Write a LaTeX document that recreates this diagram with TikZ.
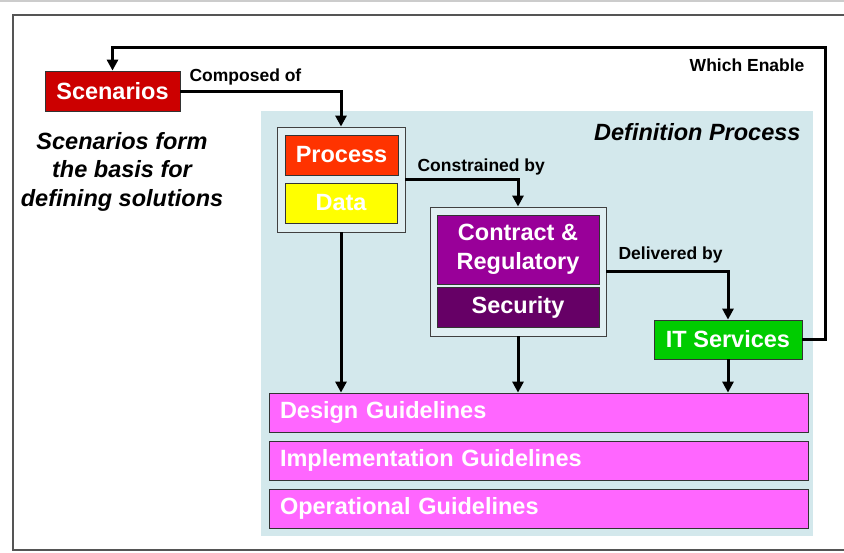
\documentclass[tikz,border=0pt]{standalone}
\usepackage{fontspec}
\setmainfont{Liberation Sans}
\usetikzlibrary{arrows.meta}
\definecolor{scenred}{HTML}{CC0000}
\definecolor{procred}{HTML}{FF3300}
\definecolor{datayel}{HTML}{FFFF00}
\definecolor{contpur}{HTML}{990099}
\definecolor{secpur}{HTML}{660066}
\definecolor{itgreen}{HTML}{00CC00}
\definecolor{guidepink}{HTML}{FF66FF}
\definecolor{bgblue}{HTML}{D3E8EC}
\definecolor{framegray}{HTML}{555555}
\tikzset{
  bigfont/.style={font=\fontsize{23.5}{28.5}\selectfont\bfseries},
  lblfont/.style={font=\fontsize{17.5}{20}\selectfont\bfseries},
  box/.style={draw=black!80, line width=0.8pt, inner sep=0pt, text=white, bigfont, align=center},
  groupbox/.style={draw=black!75, line width=0.9pt, fill=bgblue!70!white, inner sep=0pt},
  guide/.style={box, fill=guidepink, minimum width=539pt, minimum height=39pt, text width=517pt, inner xsep=11pt, align=left},
  conn/.style={line width=3pt, -{Triangle[width=11pt,length=11pt]}},
}
\begin{document}
\begin{tikzpicture}[x=1pt,y=-1pt]
\useasboundingbox (0,0) rectangle (844,552);
\fill[white] (0,0) rectangle (844,552);
% outer decoration
\draw[black!20, line width=2pt] (0,0.5) -- (844,0.5);
\draw[framegray, line width=1.5pt] (860,15) -- (13,15) -- (13,550) -- (860,550);
% definition process background
\fill[bgblue] (261,111) rectangle (813,536);
\node[bigfont, font=\fontsize{23.5}{28.5}\selectfont\bfseries\itshape, anchor=east] (defp) at (804,132.5) {Definition Process};
% scenarios
\node[box, fill=scenred, minimum width=135pt, minimum height=40pt] (scen) at (112.5,91) {Scenarios};
\node[bigfont, font=\fontsize{23.5}{28.5}\selectfont\bfseries\itshape, align=center] (basis) at (122,171.5) {Scenarios form\\the basis for\\defining solutions};
% process group
\node[groupbox, minimum width=128pt, minimum height=105pt] (pg) at (341,179.5) {};
\node[box, fill=procred, minimum width=113pt, minimum height=40pt] (proc) at (341.5,155) {Process};
\node[box, fill=datayel, minimum width=112pt, minimum height=40pt] (data) at (341,203) {Data};
% contract group
\node[groupbox, minimum width=176pt, minimum height=129pt] (cg) at (518,271.5) {};
\node[box, fill=contpur, minimum width=162pt, minimum height=69pt] (cont) at (518,249.5) {Contract \&\\Regulatory};
\node[box, fill=secpur, minimum width=162pt, minimum height=40pt] (sec) at (518,307) {Security};
% IT services
\node[box, fill=itgreen, minimum width=148pt, minimum height=39pt] (it) at (728,339.5) {IT Services};
% guidelines
\node[guide] (design) at (538.5,412.5) {Design Guidelines};
\node[guide] (impl) at (538.5,460.5) {Implementation Guidelines};
\node[guide] (oper) at (538.5,508.5) {Operational Guidelines};
% connector labels
\node[lblfont, anchor=west] (lcomp) at (186,77) {Composed of};
\node[lblfont, anchor=west] (lcons) at (414,167) {Constrained by};
\node[lblfont, anchor=west] (ldel) at (615,255) {Delivered by};
\node[lblfont, anchor=east] (lwhich) at (808,65) {Which Enable};
% connectors
\coordinate (fbr) at (825,339.5);
\coordinate (fbt) at (825,47);
\draw[conn] (scen.east) -| (pg.north);
\draw[conn] (pg.east) -| (cg.north);
\draw[conn] (cg.east) -| (it.north);
\draw[conn] (it.east) -- (fbr) -- (fbt) -| (scen.north);
\draw[conn] (pg.south) -- (pg.south |- design.north);
\draw[conn] (cg.south) -- (cg.south |- design.north);
\draw[conn] (it.south) -- (it.south |- design.north);
\end{tikzpicture}
\end{document}
